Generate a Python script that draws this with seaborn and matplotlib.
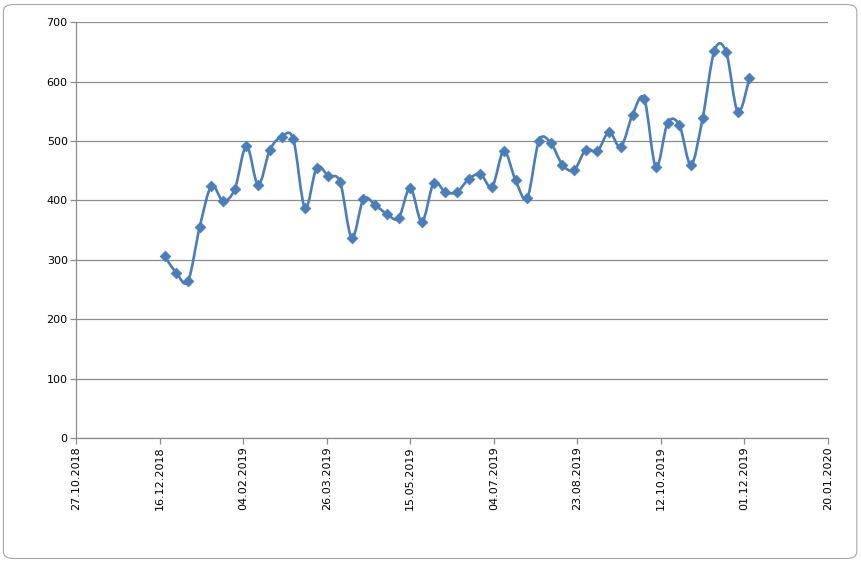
import matplotlib
matplotlib.use("Agg")
import matplotlib.pyplot as plt
import matplotlib.dates as mdates
from matplotlib.path import Path
from matplotlib.patches import PathPatch, FancyBboxPatch
import seaborn as sns
import numpy as np
import pandas as pd

# Weekly values
first_date = "2018-12-19"
values = [306, 278, 264, 355, 424, 399, 419, 492, 426, 485,
          507, 503, 387, 455, 441, 431, 337, 402, 392, 377,
          370, 421, 364, 429, 414, 414, 436, 444, 423, 483,
          434, 404, 500, 497, 460, 451, 485, 483, 515, 490,
          544, 571, 456, 530, 527, 460, 539, 652, 650, 549, 606]
dates = pd.date_range(first_date, periods=len(values), freq="7D")

# x axis tick dates (every 50 days, as in the original)
tick_dates = pd.date_range("2018-10-27", "2020-01-20", freq="50D")
y_ticks = list(range(0, 701, 100))

df = pd.DataFrame({"date": dates, "value": values})

color = "#4A7EBB"

sns.set_theme(style="white")
plt.rcParams["font.family"] = ["DejaVu Sans"]

fig = plt.figure(figsize=(8.62, 5.63), dpi=100)
# light chart border like an Excel chart object
fig.patches.append(FancyBboxPatch((0.004, 0.008), 0.99, 0.984,
                                  boxstyle="round,pad=0,rounding_size=0.012",
                                  transform=fig.transFigure, fill=False,
                                  edgecolor="#A6A6A6", linewidth=0.8))
ax = fig.add_axes([0.0882, 0.222, 0.8724, 0.7387])

# smoothed line (Excel-style bezier through the points)
xs = mdates.date2num(df["date"])
ys = np.asarray(df["value"], dtype=float)
verts = [(xs[0], ys[0])]
codes = [Path.MOVETO]
n = len(xs)
for i in range(n - 1):
    x0, y0 = (xs[i - 1], ys[i - 1]) if i > 0 else (xs[i], ys[i])
    x3, y3 = (xs[i + 2], ys[i + 2]) if i + 2 < n else (xs[i + 1], ys[i + 1])
    c1 = (xs[i] + (xs[i + 1] - x0) / 6, ys[i] + (ys[i + 1] - y0) / 6)
    c2 = (xs[i + 1] - (x3 - xs[i]) / 6, ys[i + 1] - (y3 - ys[i]) / 6)
    verts += [c1, c2, (xs[i + 1], ys[i + 1])]
    codes += [Path.CURVE4] * 3
ax.add_patch(PathPatch(Path(verts, codes), fill=False, edgecolor=color,
                       linewidth=1.9, zorder=2))

sns.scatterplot(data=df, x="date", y="value", marker="D", s=30,
                color=color, edgecolor=color, linewidth=0.5, ax=ax, zorder=3)

ax.set_xlim(tick_dates[0], tick_dates[-1])
ax.set_ylim(0, 700)
ax.set_yticks(y_ticks)
ax.set_xticks(tick_dates)
ax.xaxis.set_major_formatter(mdates.DateFormatter("%d.%m.%Y"))
ax.set_xlabel("")
ax.set_ylabel("")

ax.grid(axis="y", color="#8C8C8C", linewidth=0.9)
ax.set_axisbelow(True)
for s in ["top", "right"]:
    ax.spines[s].set_visible(False)
for s in ["left", "bottom"]:
    ax.spines[s].set_color("#8C8C8C")
    ax.spines[s].set_linewidth(0.9)

ax.tick_params(axis="both", which="major", length=4, width=0.9,
               color="#8C8C8C", labelsize=8, labelcolor="#000000",
               direction="out", bottom=True, left=True, pad=2)
plt.setp(ax.get_xticklabels(), rotation=90)

fig.savefig("out.png", dpi=100)
